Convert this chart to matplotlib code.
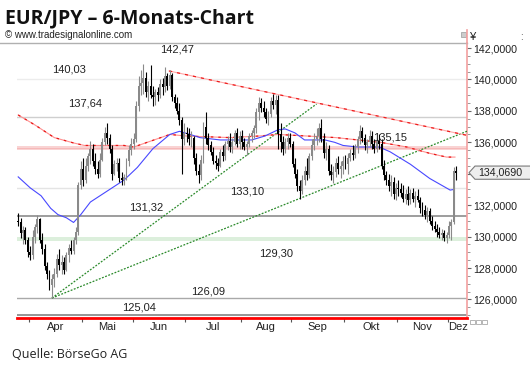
import matplotlib
matplotlib.use('Agg')
import matplotlib.pyplot as plt
import numpy as np
import pandas as pd
from matplotlib.patches import Polygon, Rectangle
from matplotlib.lines import Line2D
from matplotlib.ticker import MultipleLocator, FixedLocator, NullFormatter
import matplotlib.transforms as mtransforms

plt.rcParams['font.family'] = ['Liberation Sans', 'DejaVu Sans']

# ---------------- data ----------------
dates = pd.bdate_range('2015-03-25', '2015-12-04')

opens = [131.0, 130.9, 130.2, 130.4, 129.8,
         129.0, 128.8, 130.0, 130.6, 131.1, 129.8, 129.2, 128.1, 127.6, 126.9, 127.3, 127.6, 128.6, 128.2, 128.4, 127.9, 128.8, 129.3, 129.1, 129.8, 130.3, 133.3,
         134.3, 133.6, 134.5, 135.1, 135.6, 134.8, 134.3, 134.0, 134.9, 136.0, 136.6, 136.3, 135.6, 134.0, 134.6, 134.7, 133.7, 133.6, 133.8, 134.8, 135.5,
         135.9, 136.2, 138.3, 139.6, 139.8, 140.1, 139.2, 139.6, 139.0, 138.9, 139.2, 139.0, 139.7, 139.5, 140.2, 139.6, 140.3, 138.9, 138.5, 138.0, 137.4, 136.2,
         136.6, 136.5, 136.2, 136.3, 135.0, 134.2, 133.9, 134.9, 137.0, 136.3, 135.8, 135.4, 134.8, 134.7, 134.5, 135.4, 135.1, 135.9, 136.1, 135.7, 136.0, 136.6, 135.9,
         136.4, 136.0, 135.7, 135.9, 136.4, 136.6, 136.9, 137.9, 138.5, 138.2, 137.9, 137.5, 137.8, 138.6, 138.4, 138.7, 136.5, 136.0, 135.6, 136.0, 136.3,
         135.9, 134.6, 134.0, 133.2, 132.9, 133.6, 134.2, 133.9, 135.1, 135.8, 136.2, 136.4, 136.9, 136.2, 135.3, 135.6, 134.2, 133.9, 134.1, 134.7, 134.3, 134.5,
         134.8, 134.6, 135.0, 135.3, 135.2, 135.7, 136.2, 136.7, 136.3, 135.8, 136.0, 136.4, 135.9, 135.6, 136.1, 135.9, 134.5, 133.9, 133.6, 133.2, 133.5, 132.7,
         133.1, 133.0, 132.8, 132.4, 132.7, 132.3, 132.8, 132.4, 132.6, 132.3, 131.8, 131.7, 131.4, 131.6, 131.0, 130.7, 130.5, 130.3, 130.1, 130.2, 129.9,
         130.1, 130.7, 130.9, 134.2]

highs = [131.5, 131.2, 130.7, 130.6, 130.0,
         129.4, 130.4, 130.8, 131.4, 131.2, 130.2, 129.5, 128.4, 127.9, 127.6, 128.0, 128.9, 129.2, 128.8, 128.7, 129.0, 129.5, 129.8, 130.0, 130.6, 133.5, 134.8,
         135.0, 135.0, 135.3, 136.1, 135.9, 135.3, 134.8, 135.3, 136.3, 137.0, 137.2, 136.5, 135.8, 134.9, 135.0, 135.0, 134.1, 134.0, 135.0, 135.8, 136.3,
         136.6, 138.6, 140.2, 140.6, 141.0, 140.5, 139.9, 140.9, 139.6, 139.4, 139.5, 140.0, 140.1, 140.8, 140.4, 140.6, 140.4, 139.1, 138.9, 138.5, 137.6, 137.2,
         137.0, 136.9, 136.7, 136.4, 135.3, 134.6, 135.2, 137.3, 137.9, 136.6, 136.1, 135.7, 135.2, 135.0, 135.6, 135.8, 136.1, 136.4, 136.6, 136.3, 136.8, 136.9, 136.7,
         136.8, 136.3, 136.1, 136.6, 136.8, 137.1, 138.2, 138.9, 138.8, 138.6, 138.2, 138.0, 138.9, 139.1, 139.0, 139.0, 137.2, 136.4, 136.3, 136.6, 136.6,
         136.1, 135.0, 134.3, 133.6, 133.9, 134.5, 135.0, 135.3, 136.2, 136.6, 136.9, 137.2, 137.5, 136.6, 136.0, 135.8, 134.6, 134.5, 135.0, 135.1, 134.8, 135.1,
         135.2, 135.3, 135.6, 135.8, 135.9, 136.4, 137.1, 137.0, 136.5, 136.2, 136.8, 136.7, 136.2, 136.3, 136.5, 136.2, 134.9, 134.2, 134.0, 133.9, 133.8, 133.4,
         133.6, 133.4, 133.3, 133.0, 133.2, 133.0, 133.1, 132.9, 133.0, 132.5, 132.2, 132.0, 131.9, 131.8, 131.3, 131.0, 130.8, 130.6, 130.5, 130.4, 130.3,
         131.0, 131.1, 134.4, 134.5]

lows = [130.7, 129.9, 129.5, 129.5, 128.7,
        128.5, 128.6, 129.6, 130.2, 129.6, 128.9, 127.9, 127.3, 126.6, 126.09, 126.8, 127.4, 127.9, 127.6, 127.6, 127.8, 128.4, 128.9, 128.9, 129.5, 130.1, 133.0,
        133.2, 133.4, 134.2, 134.6, 134.5, 134.0, 133.7, 133.8, 134.8, 135.8, 135.9, 135.3, 133.6, 133.9, 134.2, 133.5, 133.3, 133.3, 133.6, 134.5, 135.2,
        135.6, 136.0, 138.0, 139.0, 139.1, 138.9, 138.6, 138.8, 138.3, 138.4, 138.6, 138.8, 139.0, 139.2, 139.3, 139.4, 138.6, 138.2, 137.8, 137.1, 134.0, 135.8,
        136.0, 135.8, 135.7, 134.6, 133.9, 133.4, 133.6, 134.7, 135.9, 135.5, 135.2, 134.6, 134.3, 134.2, 134.4, 134.8, 134.9, 135.5, 135.4, 135.3, 135.8, 135.7, 135.6,
        135.6, 135.5, 135.2, 135.7, 136.0, 136.3, 136.6, 137.4, 137.9, 137.6, 137.2, 137.1, 137.6, 138.1, 137.8, 135.6, 135.4, 135.2, 135.3, 135.6, 135.7,
        134.4, 133.7, 132.9, 132.4, 132.7, 133.3, 133.6, 133.7, 134.9, 135.5, 135.8, 136.0, 136.0, 135.0, 134.9, 133.9, 133.6, 133.4, 133.8, 134.0, 133.7, 134.0,
        134.3, 134.0, 134.8, 134.9, 135.0, 135.3, 135.9, 136.0, 135.5, 135.3, 135.7, 135.6, 135.3, 135.4, 135.6, 134.3, 133.6, 133.3, 132.9, 132.6, 132.4, 132.3,
        132.6, 132.5, 132.2, 132.1, 132.0, 132.1, 132.2, 131.9, 132.2, 131.5, 131.3, 131.1, 130.9, 130.8, 130.4, 130.3, 130.0, 129.9, 129.8, 129.7, 129.6,
        129.9, 129.8, 130.8, 133.6]

closes = [130.9, 130.2, 130.4, 129.8, 129.0,
          128.8, 130.0, 130.6, 131.1, 129.8, 129.2, 128.1, 127.6, 126.9, 127.3, 127.6, 128.6, 128.2, 128.4, 127.9, 128.8, 129.3, 129.1, 129.8, 130.3, 133.3, 134.3,
          133.6, 134.5, 135.1, 135.6, 134.8, 134.3, 134.0, 134.9, 136.0, 136.6, 136.3, 135.6, 134.0, 134.6, 134.7, 133.7, 133.6, 133.8, 134.8, 135.5, 135.9,
          136.2, 138.3, 139.6, 139.8, 140.1, 139.2, 139.6, 139.0, 138.9, 139.2, 139.0, 139.7, 139.5, 140.2, 139.6, 140.3, 138.9, 138.5, 138.0, 137.4, 136.2, 136.6,
          136.5, 136.2, 136.3, 135.0, 134.2, 133.9, 134.9, 137.0, 136.3, 135.8, 135.4, 134.8, 134.7, 134.5, 135.4, 135.1, 135.9, 136.1, 135.7, 136.0, 136.6, 135.9, 136.4,
          136.0, 135.7, 135.9, 136.4, 136.6, 136.9, 137.9, 138.5, 138.2, 137.9, 137.5, 137.8, 138.6, 138.4, 138.7, 136.5, 136.0, 135.6, 136.0, 136.3, 135.9,
          134.6, 134.0, 133.2, 132.9, 133.6, 134.2, 133.9, 135.1, 135.8, 136.2, 136.4, 136.9, 136.2, 135.3, 135.6, 134.2, 133.9, 134.1, 134.7, 134.3, 134.5, 134.8,
          134.6, 135.0, 135.3, 135.2, 135.7, 136.2, 136.7, 136.3, 135.8, 136.0, 136.4, 135.9, 135.6, 136.1, 135.9, 134.5, 133.9, 133.6, 133.2, 133.5, 132.7, 133.1,
          133.0, 132.8, 132.4, 132.7, 132.3, 132.8, 132.4, 132.6, 132.3, 131.8, 131.7, 131.4, 131.6, 131.0, 130.7, 130.5, 130.3, 130.1, 130.2, 129.9, 130.1,
          130.7, 130.9, 134.2, 134.07]

# moving averages (bar index, value)
blue_ma_idx = [0, 5, 9.5, 13.5, 16.5, 20, 23, 26, 30, 34, 38, 44, 49.5, 56, 63, 67, 71.5, 75.5, 84, 97, 102.5, 108, 111, 115, 119, 127.5, 131.5, 135, 141, 150, 154.5, 163, 171, 179.5, 181]
blue_ma_val = [133.8, 133.1, 132.6, 131.8, 131.4, 131.2, 130.9, 131.4, 132.2, 132.6, 133.0, 133.6, 134.4, 135.6, 136.5, 136.7, 136.5, 136.3, 136.15, 136.15, 136.4, 136.8, 136.85, 136.6, 136.15, 136.15, 136.0, 135.8, 135.7, 135.7, 135.4, 134.6, 133.7, 132.96, 133.0]
red_ma_idx = [0, 7, 15, 23, 27.5, 34.5, 44, 48, 63, 70, 88, 100, 108, 114, 132, 150.5, 161.5, 171, 178, 181.5]
red_ma_val = [137.74, 137.1, 136.3, 135.96, 135.8, 135.8, 135.8, 135.7, 136.5, 136.4, 136.3, 136.4, 136.5, 136.45, 136.3, 136.0, 135.7, 135.3, 135.06, 135.06]

# trend lines (anchor bar index, price)
red_trend_x = [62.7, 184.8]
red_trend_y = [140.54, 136.5]
green_steep_x = [14, 124.0]
green_steep_y = [126.09, 138.44]
green_flat_x = [14, 184.8]
green_flat_y = [126.09, 136.6]

# horizontal levels and zones
level_values = [140.03, 137.64, 133.10, 131.32, 126.09, 125.04]
zone_values = [135.66, 129.85]
label_texts = ['142,47', '140,03', '137,64', '135,15', '133,10', '131,32', '129,30', '126,09', '125,04']
last_price = 134.069
y_ticks = [126, 128, 130, 132, 134, 136, 138, 140, 142]
month_names = ['Apr', 'Mai', 'Jun', 'Jul', 'Aug', 'Sep', 'Okt', 'Nov', 'Dez']

# ---------------- figure ----------------
W, H = 530, 373
fig = plt.figure(figsize=(W / 100, H / 100), dpi=100)
fig.patch.set_facecolor('white')


def fx(px):
    return px / W


def fy(py):
    return 1 - py / H


L, R, T, B = 17, 467, 43, 318
ax = fig.add_axes([fx(L), fy(B), (R - L) / W, (B - T) / H])
ax.set_facecolor('white')
XMAX = 186.5
ax.set_xlim(-0.5, XMAX)
ax.set_ylim(124.82, 142.32)

n = min(len(dates), len(opens), len(highs), len(lows), len(closes))
xi = np.arange(n)
o = np.array(opens[:n]); h = np.array(highs[:n]); l = np.array(lows[:n]); c = np.array(closes[:n])

# levels
lv_colors = ['#ececec', '#cfcfcf', '#e4e4e4', '#8c8c8c', '#a9a9a9', '#8c8c8c']
lv_widths = [1.0, 1.0, 1.0, 1.2, 1.0, 1.3]
for v, col, lw in zip(level_values, lv_colors, lv_widths):
    ax.axhline(v, color=col, lw=lw, zorder=1)

# zones
ax.axhspan(zone_values[0] - 0.13, zone_values[0] + 0.13, color='#f9d3d3', lw=0, zorder=1)
ax.axhline(zone_values[0], color='#f5b5b5', lw=0.6, zorder=1)
ax.axhspan(zone_values[1] - 0.12, zone_values[1] + 0.12, color='#dcefdc', lw=0, zorder=1)


def extend(xs, ys, x_end):
    k = (ys[1] - ys[0]) / (xs[1] - xs[0])
    return [xs[0], x_end], [ys[0], ys[0] + k * (x_end - xs[0])]


# trend lines
gx, gy = extend(green_flat_x, green_flat_y, XMAX)
ax.plot(gx, gy, color='#2a8a2a', lw=0.9, ls=(0, (1.5, 1.2)), zorder=3)
ax.plot(green_steep_x, green_steep_y, color='#2a8a2a', lw=0.9, ls=(0, (1.5, 1.2)), zorder=3)
rx, ry = extend(red_trend_x, red_trend_y, XMAX)
ax.plot(rx, ry, color='#ffa8a8', lw=0.8, zorder=3)
ax.plot(rx, ry, color='#ee1c1c', lw=0.9, ls=(0, (2.5, 4)), zorder=3)

# moving averages
ax.plot(red_ma_idx, red_ma_val, color='#ff9090', lw=0.8, zorder=3)
ax.plot(red_ma_idx, red_ma_val, color='#e81818', lw=0.9, ls=(0, (2, 4)), zorder=3)
ax.plot(blue_ma_idx, blue_ma_val, color='#4848ff', lw=0.8, zorder=3)

# candles
up = c >= o
cols = np.where(up, '#8a8a8a', '#000000')
ax.vlines(xi, l, h, colors=cols, lw=0.8, zorder=4)
body_b = np.minimum(o, c)
body_h = np.maximum(np.abs(c - o), 0.07)
ax.bar(xi, body_h, bottom=body_b, width=0.8, color=cols, lw=0, zorder=5)

# spines
for s in ['left', 'top']:
    ax.spines[s].set_visible(False)
ax.spines['right'].set_color('#f3a0a0')
ax.spines['right'].set_linewidth(1.2)
ax.spines['bottom'].set_color('#ff0000')
ax.spines['bottom'].set_linewidth(2.0)

# y axis
ax.yaxis.tick_right()
ax.set_yticks(y_ticks)
ax.set_yticklabels(['' if t == 134 else f'{t},0000' for t in y_ticks])
ax.yaxis.set_minor_locator(MultipleLocator(0.5))
ax.tick_params(axis='y', which='major', length=3, width=0.8, color='#666666',
               labelsize=7.7, pad=1.5, labelcolor='#222222')
ax.tick_params(axis='y', which='minor', length=2, width=0.6, color='#888888')

# x axis
month_start = [i for i in range(1, n) if dates[i].month != dates[i - 1].month]
mids = []
bounds = month_start + [XMAX + 1]
for a, b in zip(bounds[:-1], bounds[1:]):
    mids.append((a + b) / 2 - 0.5)
ax.xaxis.set_major_locator(FixedLocator([m - 0.5 for m in month_start]))
ax.xaxis.set_major_formatter(NullFormatter())
ax.xaxis.set_minor_locator(FixedLocator(mids))
ax.set_xticklabels(month_names[:len(mids)], minor=True)
ax.tick_params(axis='x', which='major', length=3, width=0.8, color='#555555')
ax.tick_params(axis='x', which='minor', length=0, labelsize=8, pad=3, labelcolor='#222222')

# level labels (pixel positions)
label_pos = [(177, 49), (69, 69), (85, 104), (390, 138), (247, 192), (146, 207),
             (276, 253), (208, 292), (139, 308)]
for t, (px, py) in zip(label_texts, label_pos):
    fig.text(fx(px), fy(py), t, ha='center', va='center', fontsize=8, color='#222222')

# header
fig.text(fx(5), fy(18), 'EUR/JPY – 6-Monats-Chart', fontsize=14, fontweight='bold',
         family=['Open Sans', 'DejaVu Sans'], va='center', ha='left', color='#111111')
fig.text(fx(5), fy(35), '© www.tradesignalonline.com', fontsize=7, va='center', ha='left', color='#222222')
fig.add_artist(Line2D([0, fx(R)], [fy(T), fy(T)], color='#b0b0b0', lw=1.0))
fig.add_artist(Line2D([fx(R), fx(R)], [fy(30), fy(T)], color='#f3a0a0', lw=1.2))
fig.text(fx(470), fy(37), '¥', fontsize=8, va='center', ha='left', color='#222222')
fig.add_artist(Rectangle((fx(461), fy(37)), 5 / W, 5 / H, facecolor='#cccccc', edgecolor='#999999', lw=0.5))
fig.text(fx(520), fy(37), ':', fontsize=7, va='center', ha='left', color='#444444')

# last price box
trans = mtransforms.blended_transform_factory(fig.transFigure, ax.transData)
bh = 0.42
poly = Polygon([(fx(469), last_price), (fx(475), last_price + bh), (fx(531), last_price + bh),
                (fx(531), last_price - bh), (fx(475), last_price - bh)], closed=True,
               transform=trans, facecolor='#eeeeee', edgecolor='#7a7a7a', lw=0.8, clip_on=False, zorder=10)
fig.add_artist(poly)
fig.text(fx(478), last_price, f'{last_price:.4f}'.replace('.', ','), transform=trans, fontsize=7.7,
         va='center', ha='left', color='#222222', zorder=11)

# small widget bottom right
for k in range(3):
    fig.add_artist(Rectangle((fx(470 + 6 * k), fy(324)), 5 / W, 4 / H, facecolor='white',
                             edgecolor='#999999', lw=0.5))

fig.text(fx(12), fy(355), 'Quelle: BörseGo AG', fontsize=9, family=['Open Sans', 'DejaVu Sans'],
         va='center', ha='left', color='#222222')

fig.savefig('out.png', dpi=100, facecolor='white')
